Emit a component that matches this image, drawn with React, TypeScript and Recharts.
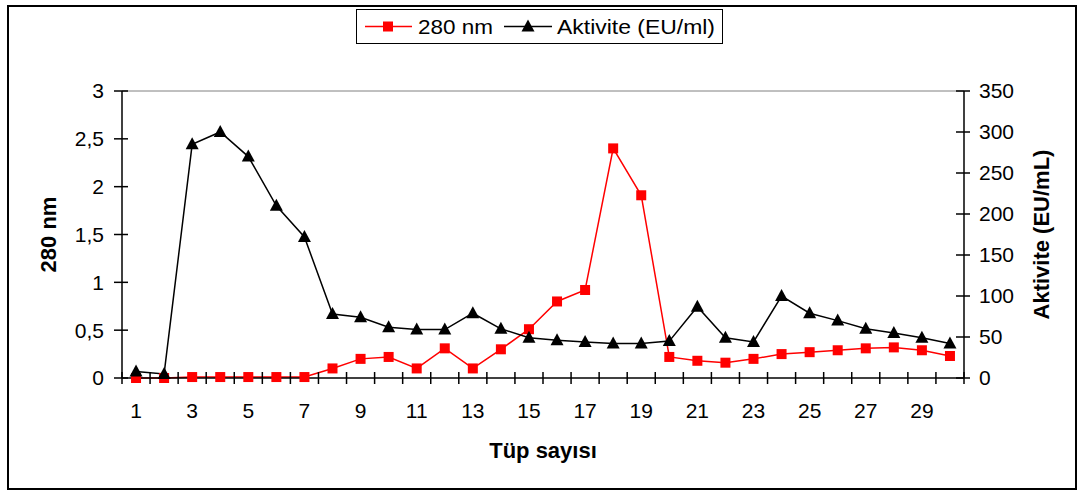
import React from "react";
import {
  ComposedChart,
  Line,
  XAxis,
  YAxis,
  Legend,
  ReferenceLine,
} from "recharts";

const tubes = [1, 2, 3, 4, 5, 6, 7, 8, 9, 10, 11, 12, 13, 14, 15, 16, 17, 18, 19, 20, 21, 22, 23, 24, 25, 26, 27, 28, 29, 30];
const abs280 = [0, 0, 0.01, 0.01, 0.01, 0.01, 0.01, 0.1, 0.2, 0.22, 0.1, 0.31, 0.1, 0.3, 0.51, 0.8, 0.92, 2.4, 1.91, 0.22, 0.18, 0.16, 0.2, 0.25, 0.27, 0.29, 0.31, 0.32, 0.29, 0.23];
const activity = [8, 5, 285, 300, 270, 210, 172, 78, 74, 62, 59, 59, 79, 60, 49, 46, 44, 42, 42, 45, 87, 49, 44, 100, 79, 70, 60, 55, 49, 42];

const xTicks = [0.5, 1.5, 2.5, 3.5, 4.5, 5.5, 6.5, 7.5, 8.5, 9.5, 10.5, 11.5, 12.5, 13.5, 14.5, 15.5, 16.5, 17.5, 18.5, 19.5, 20.5, 21.5, 22.5, 23.5, 24.5, 25.5, 26.5, 27.5, 28.5, 29.5, 30.5];
const leftTicks = [0, 0.5, 1, 1.5, 2, 2.5, 3];
const rightTicks = [0, 50, 100, 150, 200, 250, 300, 350];

const data = tubes.map((t, i) => ({ tube: t, a280: abs280[i], akt: activity[i] }));

const W = 1080;
const H = 495;
const LEFT_W = 122;
const RIGHT_W = 116;
const BAND = (W - LEFT_W - RIGHT_W) / tubes.length;
const FONT = "Arial, 'Liberation Sans', sans-serif";
const FS = 21;
const TITLE_FS = 22;

const Square = (props: any) => {
  const { cx, cy } = props;
  if (cx == null || cy == null) return null;
  return <rect x={cx - 5} y={cy - 5} width={10} height={10} fill="#ff0000" />;
};

const Triangle = (props: any) => {
  const { cx, cy } = props;
  if (cx == null || cy == null) return null;
  return <polygon points={`${cx},${cy - 7} ${cx - 6.5},${cy + 5} ${cx + 6.5},${cy + 5}`} fill="#000" />;
};

const XTick = (props: any) => {
  const { x, y, payload } = props;
  const v = payload.value + 0.5;
  return (
    <g>
      <line x1={x} x2={x} y1={y - 6} y2={y + 6} stroke="#000" strokeWidth={1.5} />
      {v % 2 === 1 && v <= 30 ? (
        <text x={x + BAND / 2} y={y + 33} dy="0.35em" textAnchor="middle" fontSize={FS} fontFamily={FONT} fill="#000">
          {v}
        </text>
      ) : null}
    </g>
  );
};

const LeftTick = (props: any) => {
  const { x, y, payload } = props;
  return (
    <g>
      <line x1={x - 8} x2={x + 6} y1={y} y2={y} stroke="#000" strokeWidth={1.5} />
      <text x={x - 18} y={y} dy="0.35em" textAnchor="end" fontSize={FS} fontFamily={FONT} fill="#000">
        {String(payload.value).replace(".", ",")}
      </text>
    </g>
  );
};

const RightTick = (props: any) => {
  const { x, y, payload } = props;
  return (
    <g>
      <line x1={x - 8} x2={x + 6} y1={y} y2={y} stroke="#000" strokeWidth={1.5} />
      <text x={x + 15} y={y} dy="0.35em" textAnchor="start" fontSize={FS} fontFamily={FONT} fill="#000">
        {payload.value}
      </text>
    </g>
  );
};

const LegendBox = () => (
  <svg width={367} height={35} style={{ display: "block" }}>
    <rect x={0.5} y={0.5} width={366} height={34} fill="#fff" stroke="#000" strokeWidth={1} />
    <line x1={9} x2={56} y1={17.5} y2={17.5} stroke="#ff0000" strokeWidth={1.5} />
    <rect x={27} y={12.5} width={10} height={10} fill="#ff0000" />
    <text x={62} y={17.5} dy="0.35em" fontSize={FS} fontFamily={FONT} textLength={75} lengthAdjust="spacingAndGlyphs">
      280 nm
    </text>
    <line x1={148} x2={196} y1={17.5} y2={17.5} stroke="#000" strokeWidth={1.5} />
    <polygon points="172,10.5 165.5,22.5 178.5,22.5" fill="#000" />
    <text x={201} y={17.5} dy="0.35em" fontSize={FS} fontFamily={FONT} textLength={158} lengthAdjust="spacingAndGlyphs">
      Aktivite (EU/ml)
    </text>
  </svg>
);

export default function App() {
  return (
    <div style={{ position: "absolute", left: 0, top: 0, width: W, height: H, background: "#fff" }}>
      <div
        style={{
          position: "absolute",
          left: 7,
          top: 5,
          width: 1070,
          height: 485,
          border: "2px solid #000",
          boxSizing: "border-box",
        }}
      />
      <div style={{ position: "absolute", left: 0, top: 0 }}>
        <ComposedChart width={W} height={H} data={data} margin={{ top: 91, right: 0, bottom: 0, left: 0 }}>
          <XAxis
            dataKey="tube"
            type="number"
            domain={[0.5, 30.5]}
            ticks={xTicks}
            interval={0}
            height={117}
            tickSize={0}
            tickMargin={0}
            tickLine={false}
            tick={<XTick />}
            axisLine={{ stroke: "#000", strokeWidth: 1.5 }}
            label={{
              value: "Tüp sayısı",
              position: "insideBottom",
              offset: 37,
              fontSize: TITLE_FS,
              fontWeight: "bold",
              fontFamily: FONT,
              fill: "#000",
            }}
          />
          <YAxis
            yAxisId="left"
            domain={[0, 3]}
            ticks={leftTicks}
            width={LEFT_W}
            tickSize={0}
            tickMargin={0}
            tickLine={false}
            tick={<LeftTick />}
            axisLine={{ stroke: "#000", strokeWidth: 1.5 }}
            label={{
              value: "280 nm",
              angle: -90,
              position: "center",
              dx: -13,
              fontSize: TITLE_FS,
              fontWeight: "bold",
              fontFamily: FONT,
              fill: "#000",
            }}
          />
          <YAxis
            yAxisId="right"
            orientation="right"
            domain={[0, 350]}
            ticks={rightTicks}
            width={RIGHT_W}
            tickSize={0}
            tickMargin={0}
            tickLine={false}
            tick={<RightTick />}
            axisLine={{ stroke: "#000", strokeWidth: 1.5 }}
            label={{
              value: "Aktivite (EU/mL)",
              angle: -90,
              position: "center",
              dx: 19,
              fontSize: TITLE_FS,
              fontWeight: "bold",
              fontFamily: FONT,
              fill: "#000",
            }}
          />
          <ReferenceLine yAxisId="left" y={3} stroke="#808080" strokeWidth={1} />
          <Legend
            layout="horizontal"
            verticalAlign="middle"
            align="center"
            content={<LegendBox />}
            wrapperStyle={{ top: 9, left: 356, width: "auto", height: "auto" }}
          />
          <Line
            yAxisId="left"
            dataKey="a280"
            name="280 nm"
            stroke="#ff0000"
            strokeWidth={1.5}
            dot={<Square />}
            activeDot={false}
            isAnimationActive={false}
          />
          <Line
            yAxisId="right"
            dataKey="akt"
            name="Aktivite (EU/ml)"
            stroke="#000"
            strokeWidth={1.5}
            dot={<Triangle />}
            activeDot={false}
            isAnimationActive={false}
          />
        </ComposedChart>
      </div>
    </div>
  );
}
